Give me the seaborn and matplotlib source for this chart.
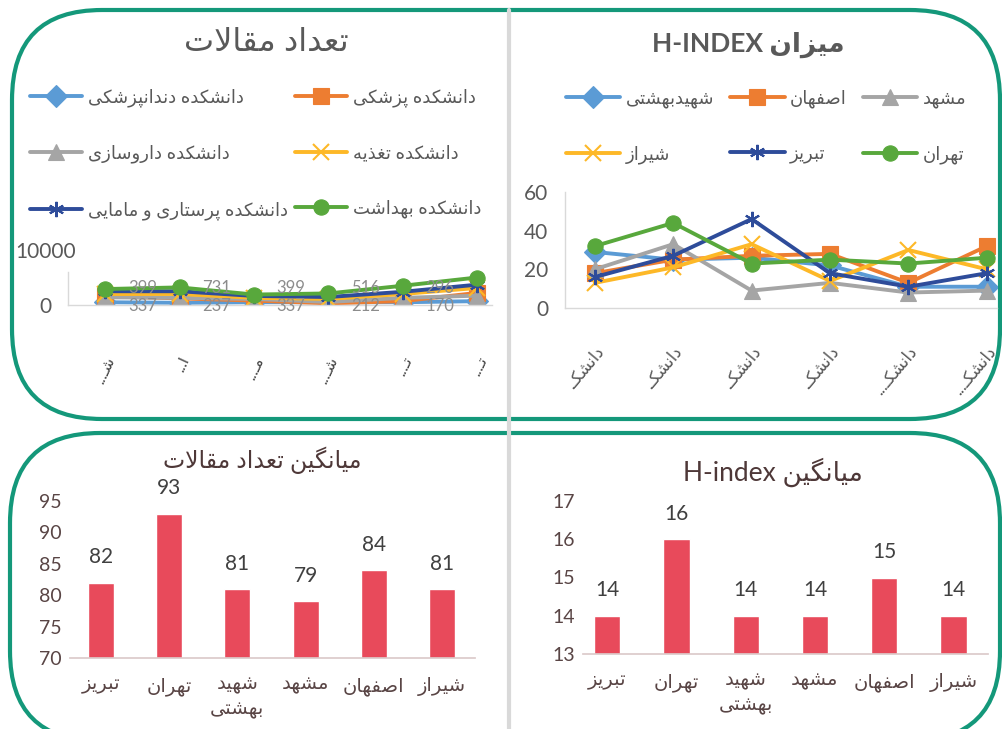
import pandas as pd
import seaborn as sns
import matplotlib.pyplot as plt
from matplotlib.patches import FancyBboxPatch
from matplotlib.lines import Line2D

# matplotlib has no Arabic shaping, so join the Persian letters by hand
DUAL = {'ب': 0xFE8F, 'ت': 0xFE95, 'ث': 0xFE99, 'ج': 0xFE9D, 'ح': 0xFEA1, 'خ': 0xFEA5,
        'س': 0xFEB1, 'ش': 0xFEB5, 'ص': 0xFEB9, 'ض': 0xFEBD, 'ط': 0xFEC1, 'ظ': 0xFEC5,
        'ع': 0xFEC9, 'غ': 0xFECD, 'ف': 0xFED1, 'ق': 0xFED5, 'ل': 0xFEDD, 'م': 0xFEE1,
        'ن': 0xFEE5, 'ه': 0xFEE9, 'ي': 0xFEF1, 'پ': 0xFB56, 'چ': 0xFB7A, 'ک': 0xFB8E,
        'گ': 0xFB92, 'ی': 0xFBFC}
RIGHT = {'ا': 0xFE8D, 'آ': 0xFE81, 'د': 0xFEA9, 'ذ': 0xFEAB, 'ر': 0xFEAD, 'ز': 0xFEAF,
         'ژ': 0xFB8A, 'و': 0xFEED}
TATWEEL = 'ـ'


def joins_next(c):
    return c in DUAL or c == TATWEEL


def joins_prev(c):
    return c in DUAL or c in RIGHT or c == TATWEEL


def shape_word(word):
    out = []
    i = 0
    while i < len(word):
        c = word[i]
        prev = word[i - 1] if i > 0 else ''
        nxt = word[i + 1] if i + 1 < len(word) else ''
        jp = bool(prev) and joins_prev(c) and joins_next(prev)
        if c == 'ل' and nxt == 'ا':
            out.append(chr(0xFEFC if jp else 0xFEFB))
            i += 2
            continue
        jn = bool(nxt) and joins_next(c) and joins_prev(nxt)
        if c in DUAL:
            out.append(chr(DUAL[c] + (3 if jp and jn else 1 if jp else 2 if jn else 0)))
        elif c in RIGHT:
            out.append(chr(RIGHT[c] + (1 if jp else 0)))
        else:
            out.append(c)
        i += 1
    return ''.join(out)


def fa(text):
    lines = []
    for line in text.split('\n'):
        words = []
        for w in line.split(' '):
            if any(ch in DUAL or ch in RIGHT for ch in w):
                words.append(shape_word(w)[::-1])
            else:
                words.append(w)
        lines.append(' '.join(words[::-1]))
    return '\n'.join(lines)


# ---------------- data ----------------
cities = ['شهیدبهشتی', 'اصفهان', 'مشهد', 'شیراز', 'تبریز', 'تهران']
faculties = ['دانشکده دندانپزشکی', 'دانشکده پزشکی', 'دانشکده داروسازی',
             'دانشکده تغذیه', 'دانشکده پرستاری و مامایی', 'دانشکده بهداشت']

# number of articles, x = universities, one series per faculty
city_ticks = ['شـ...', 'ا...', 'مـ...', 'شـ...', 'تـ...', 'تـ...']
art_dentistry = [500, 400, 500, 500, 500, 700]
art_medicine = [1600, 1200, 800, 300, 700, 2200]
art_pharmacy = [1400, 1300, 1100, 550, 1300, 1700]
art_nutrition = [2000, 2000, 1300, 1100, 2000, 3100]
art_nursing = [2500, 2500, 1650, 1450, 2400, 3700]
art_health = [2900, 3200, 1900, 2100, 3500, 5000]
labels_upper = [399, 731, 399, 516, 296]
labels_lower = [337, 237, 337, 212, 170]

# H-index, x = faculties, one series per university
faculty_ticks = ['دانشکـ.', 'دانشکـ.', 'دانشکـ.', 'دانشکـ.', 'دانشکـ...', 'دانشکـ...']
h_shahid = [29, 25, 26, 22, 11, 11]
h_isfahan = [18, 25, 27, 28, 13, 32]
h_mashhad = [20, 33, 9, 13, 8, 9]
h_shiraz = [13, 21, 33, 14, 30, 20]
h_tabriz = [16, 27, 46, 18, 11, 18]
h_tehran = [32, 44, 23, 25, 23, 26]

bar_cities = ['تبریز', 'تهران', 'شهید\nبهشتی', 'مشهد', 'اصفهان', 'شیراز']
mean_articles = [82, 93, 81, 79, 84, 81]
mean_hindex = [14, 16, 14, 14, 15, 14]

colors = ['#5B9BD5', '#ED7D31', '#A5A5A5', '#FDB827', '#2E4C9A', '#58A83C']
markers = ['D', 's', '^', 'x', (6, 2, 0), 'o']

sns.set_theme(style='white')
plt.rcParams['font.family'] = ['Lato', 'DejaVu Sans']

W, H = 1002, 729
fig = plt.figure(figsize=(W / 100, H / 100), dpi=100)


def px_axes(x0, y0, x1, y1):
    # axes from pixel box (top-left origin)
    return fig.add_axes([x0 / W, 1 - y1 / H, (x1 - x0) / W, (y1 - y0) / H])


def draw_lines(ax, series, names, ms):
    for vals, name, col, mk in zip(series, names, colors, markers):
        df = pd.DataFrame({'x': range(len(vals)), 'y': vals})
        sns.lineplot(data=df, x='x', y='y', ax=ax, color=col, marker=mk, markersize=ms,
                     linewidth=2.8, markeredgecolor=col, markeredgewidth=1.5 if mk in ('x', (6, 2, 0)) else 0.8,
                     label=fa(name), legend=False)


def style_line_axes(ax):
    sns.despine(ax=ax, top=True, right=True)
    for s in ('left', 'bottom'):
        ax.spines[s].set_color('#d9d9d9')
        ax.spines[s].set_linewidth(1)
    ax.set_xlabel('')
    ax.set_ylabel('')
    ax.tick_params(length=0, colors='#595959')


# ---------- top left: تعداد مقالات ----------
ax1 = px_axes(68, 250, 492, 305)
art_series = [art_dentistry, art_medicine, art_pharmacy, art_nutrition, art_nursing, art_health]
draw_lines(ax1, art_series, faculties, 11)
style_line_axes(ax1)
ax1.set_ylim(0, 10000)
ax1.set_xlim(-0.5, 5.2)
ax1.set_yticks([0, 10000])
ax1.spines['left'].set_bounds(0, 6000)
ax1.tick_params(axis='y', labelsize=15, pad=16)
for t in ax1.get_yticklabels():
    t.set_horizontalalignment('center')
ax1.set_xticks(range(6))
ax1.set_xticklabels([fa(t) for t in city_ticks], rotation=65, ha='right', va='top',
                    rotation_mode='anchor', fontsize=11, color='#404040')
ax1.tick_params(axis='x', pad=36)
for i in range(5):
    ax1.text(i + 0.5, 3050, str(labels_upper[i]), ha='center', va='center', fontsize=12,
             color='#8c8c8c', zorder=5)
    ax1.text(i + 0.5, -150, str(labels_lower[i]), ha='center', va='center', fontsize=12,
             color='#8c8c8c', zorder=5)
h1 = ax1.get_lines()
order = [0, 2, 4, 1, 3, 5]
ax1.legend([h1[k] for k in order], [fa(faculties[k]) for k in order], ncol=2,
           loc='upper left', bbox_to_anchor=(30 / W, 1 - 88 / H), bbox_transform=fig.transFigure,
           frameon=False, fontsize=13, labelcolor='#595959', handlelength=2.9,
           handletextpad=0.3, labelspacing=2.1, columnspacing=0.4, borderpad=0, borderaxespad=0)

# ---------- top right: H-index ----------
ax2 = px_axes(565, 192, 997, 308)
h_series = [h_shahid, h_isfahan, h_mashhad, h_shiraz, h_tabriz, h_tehran]
draw_lines(ax2, h_series, cities, 11)
style_line_axes(ax2)
ax2.set_ylim(0, 60)
ax2.set_xlim(-0.38, 5.13)
ax2.set_yticks([0, 20, 40, 60])
ax2.tick_params(axis='y', labelsize=15, pad=12)
ax2.set_xticks(range(6))
ax2.set_xticklabels([fa(t) for t in faculty_ticks], rotation=50, ha='right', va='top',
                    rotation_mode='anchor', fontsize=12, color='#595959')
ax2.tick_params(axis='x', pad=26)
h2 = ax2.get_lines()
order = [0, 3, 1, 4, 2, 5]
ax2.legend([h2[k] for k in order], [fa(cities[k]) for k in order], ncol=3,
           loc='upper left', bbox_to_anchor=(566 / W, 1 - 89 / H), bbox_transform=fig.transFigure,
           frameon=False, fontsize=13, labelcolor='#595959', handlelength=3.0,
           handletextpad=0.3, labelspacing=2.1, columnspacing=0.9, borderpad=0, borderaxespad=0)


# ---------- bottom bars ----------
def draw_bars(ax, vals, ylim, yticks, xlim):
    df = pd.DataFrame({'city': bar_cities, 'v': vals})
    sns.barplot(data=df, x='city', y='v', order=bar_cities, color='#E84A5B', saturation=1,
                width=0.38, ax=ax)
    ax.set_ylim(*ylim)
    ax.set_xlim(*xlim)
    ax.set_yticks(yticks)
    ax.set_xticks(range(6))
    ax.set_xticklabels([fa(c) for c in bar_cities], fontsize=14, color='#594545', linespacing=1.45)
    ax.tick_params(length=0, colors='#594545')
    ax.tick_params(axis='y', labelsize=14, pad=6)
    ax.tick_params(axis='x', pad=14)
    ax.set_xlabel('')
    ax.set_ylabel('')
    sns.despine(ax=ax, left=True)
    ax.spines['bottom'].set_color('#dccaca')
    ax.bar_label(ax.containers[0], padding=11, fontsize=15, color='#404040')


ax3 = px_axes(70, 501, 475, 658)
draw_bars(ax3, mean_articles, (70, 95), [70, 75, 80, 85, 90, 95], (-0.45, 5.48))
ax4 = px_axes(583, 501, 988, 654)
draw_bars(ax4, mean_hindex, (13, 17), [13, 14, 15, 16, 17], (-0.35, 5.5))

# ---------- titles ----------
fig.text(266 / W, 1 - 42 / H, fa('تعداد مقالات'), ha='center', va='center', fontsize=23, color='#595959')
fig.text(748 / W, 1 - 45 / H, fa('میزان H-INDEX'), ha='center', va='center', fontsize=19,
         fontweight='bold', color='#595959')
fig.text(262 / W, 1 - 460 / H, fa('میانگین تعداد مقالات'), ha='center', va='center', fontsize=17,
         color='#4e3838')
fig.text(773 / W, 1 - 472 / H, fa('میانگین H-index'), ha='center', va='center', fontsize=19,
         color='#4e3838')

# ---------- panel frames ----------
green = '#14987A'
fig.add_artist(FancyBboxPatch((0.12, 3.10), 9.88, 4.09, boxstyle='round,pad=0,rounding_size=0.9',
                              transform=fig.dpi_scale_trans, fill=False, ec=green, lw=3, zorder=0))
fig.add_artist(FancyBboxPatch((0.10, -0.12), 9.90, 3.08, boxstyle='round,pad=0,rounding_size=0.9',
                              transform=fig.dpi_scale_trans, fill=False, ec=green, lw=3, zorder=0))
fig.add_artist(Line2D([5.09, 5.09], [0, 7.19], transform=fig.dpi_scale_trans, color='#d9d9d9',
                      lw=3, zorder=0))

fig.savefig('out.png', dpi=100)
